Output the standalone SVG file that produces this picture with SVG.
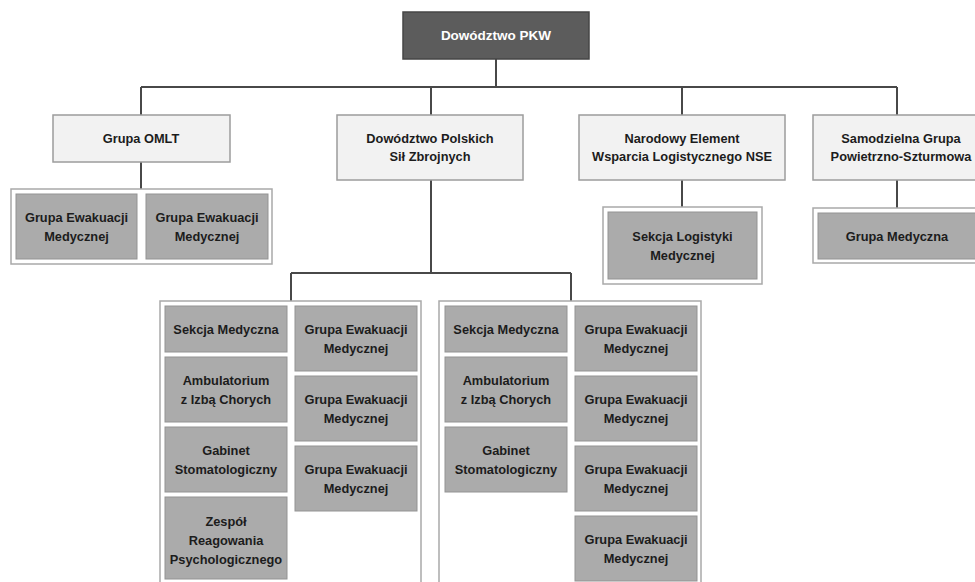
<svg xmlns="http://www.w3.org/2000/svg" width="975" height="582" viewBox="0 0 975 582">
<style>
.bg{fill:#ffffff}
.ln{stroke:#484848;stroke-width:2;fill:none}
.top{fill:#5c5c5c;stroke:#464646;stroke-width:1.5}
.l2{fill:#f2f2f2;stroke:#9c9c9c;stroke-width:1.5}
.cont{fill:#ffffff;stroke:#a9a9a9;stroke-width:1.5}
.med{fill:#ababab;stroke:#939393;stroke-width:1}
text{font-family:"Liberation Sans",Arial,sans-serif;font-weight:bold;font-size:12.8px;text-anchor:middle;fill:#1c1c1c}
.wt{fill:#ffffff;font-size:13.5px}
</style>
<rect class="bg" x="0" y="0" width="975" height="582"/>
<g id="connectors">
<path class="ln" d="M496 59V87M141 87H897M141 87V115M431 87V115M682 87V115M897 87V115M141 162V189M431 180V273M291 273H571M291 273V301M571 273V301M682 180V207M897 180V208"/>
</g>
<g id="n-pkw"><rect class="top" x="403" y="12" width="186" height="47"/><text class="wt" x="496" y="40">Dowództwo PKW</text></g>
<g id="n-omlt"><rect class="l2" x="53" y="115" width="177" height="47"/><text x="141" y="143">Grupa OMLT</text></g>
<g id="n-psz"><rect class="l2" x="337" y="115" width="186" height="65"/><text x="430" y="143">Dowództwo Polskich</text><text x="430" y="161">Sił Zbrojnych</text></g>
<g id="n-nse"><rect class="l2" x="579" y="115" width="206" height="65"/><text x="682" y="143">Narodowy Element</text><text x="682" y="161">Wsparcia Logistycznego NSE</text></g>
<g id="n-sgps"><rect class="l2" x="813" y="115" width="176" height="65"/><text x="901" y="143">Samodzielna Grupa</text><text x="901" y="161">Powietrzno-Szturmowa</text></g>
<g id="c-omlt"><rect class="cont" x="11" y="189" width="261" height="75"/>
<g id="n-omlt-1"><rect class="med" x="16" y="194" width="121" height="65"/><text x="76.5" y="222">Grupa Ewakuacji</text><text x="76.5" y="241">Medycznej</text></g>
<g id="n-omlt-2"><rect class="med" x="146" y="194" width="122" height="65"/><text x="207" y="222">Grupa Ewakuacji</text><text x="207" y="241">Medycznej</text></g>
</g>
<g id="c-nse"><rect class="cont" x="603" y="207" width="159" height="77"/>
<g id="n-nse-1"><rect class="med" x="608" y="212" width="149" height="67"/><text x="682.5" y="241">Sekcja Logistyki</text><text x="682.5" y="260">Medycznej</text></g>
</g>
<g id="c-sgps"><rect class="cont" x="813" y="208" width="170" height="55"/>
<g id="n-sgps-1"><rect class="med" x="818" y="213" width="160" height="46"/><text x="897" y="241">Grupa Medyczna</text></g>
</g>
<g id="c-left"><rect class="cont" x="160" y="301" width="261" height="295"/>
<g id="n-l-1"><rect class="med" x="165" y="306" width="122" height="46"/><text x="226" y="333.5">Sekcja Medyczna</text></g>
<g id="n-l-2"><rect class="med" x="165" y="357" width="122" height="65"/><text x="226" y="385">Ambulatorium</text><text x="226" y="404">z Izbą Chorych</text></g>
<g id="n-l-3"><rect class="med" x="165" y="427" width="122" height="65"/><text x="226" y="455">Gabinet</text><text x="226" y="474">Stomatologiczny</text></g>
<g id="n-l-4"><rect class="med" x="165" y="497" width="122" height="82"/><text x="226" y="525.5">Zespół</text><text x="226" y="544.5">Reagowania</text><text x="226" y="563.5">Psychologicznego</text></g>
<g id="n-l-5"><rect class="med" x="295" y="306" width="122" height="65"/><text x="356" y="334">Grupa Ewakuacji</text><text x="356" y="353">Medycznej</text></g>
<g id="n-l-6"><rect class="med" x="295" y="376" width="122" height="65"/><text x="356" y="404">Grupa Ewakuacji</text><text x="356" y="423">Medycznej</text></g>
<g id="n-l-7"><rect class="med" x="295" y="446" width="122" height="65"/><text x="356" y="474">Grupa Ewakuacji</text><text x="356" y="493">Medycznej</text></g>
</g>
<g id="c-right"><rect class="cont" x="439" y="301" width="262" height="295"/>
<g id="n-r-1"><rect class="med" x="445" y="306" width="122" height="46"/><text x="506" y="333.5">Sekcja Medyczna</text></g>
<g id="n-r-2"><rect class="med" x="445" y="357" width="122" height="65"/><text x="506" y="385">Ambulatorium</text><text x="506" y="404">z Izbą Chorych</text></g>
<g id="n-r-3"><rect class="med" x="445" y="427" width="122" height="65"/><text x="506" y="455">Gabinet</text><text x="506" y="474">Stomatologiczny</text></g>
<g id="n-r-4"><rect class="med" x="575" y="306" width="122" height="65"/><text x="636" y="334">Grupa Ewakuacji</text><text x="636" y="353">Medycznej</text></g>
<g id="n-r-5"><rect class="med" x="575" y="376" width="122" height="65"/><text x="636" y="404">Grupa Ewakuacji</text><text x="636" y="423">Medycznej</text></g>
<g id="n-r-6"><rect class="med" x="575" y="446" width="122" height="65"/><text x="636" y="474">Grupa Ewakuacji</text><text x="636" y="493">Medycznej</text></g>
<g id="n-r-7"><rect class="med" x="575" y="516" width="122" height="65"/><text x="636" y="544">Grupa Ewakuacji</text><text x="636" y="563">Medycznej</text></g>
</g>
</svg>
